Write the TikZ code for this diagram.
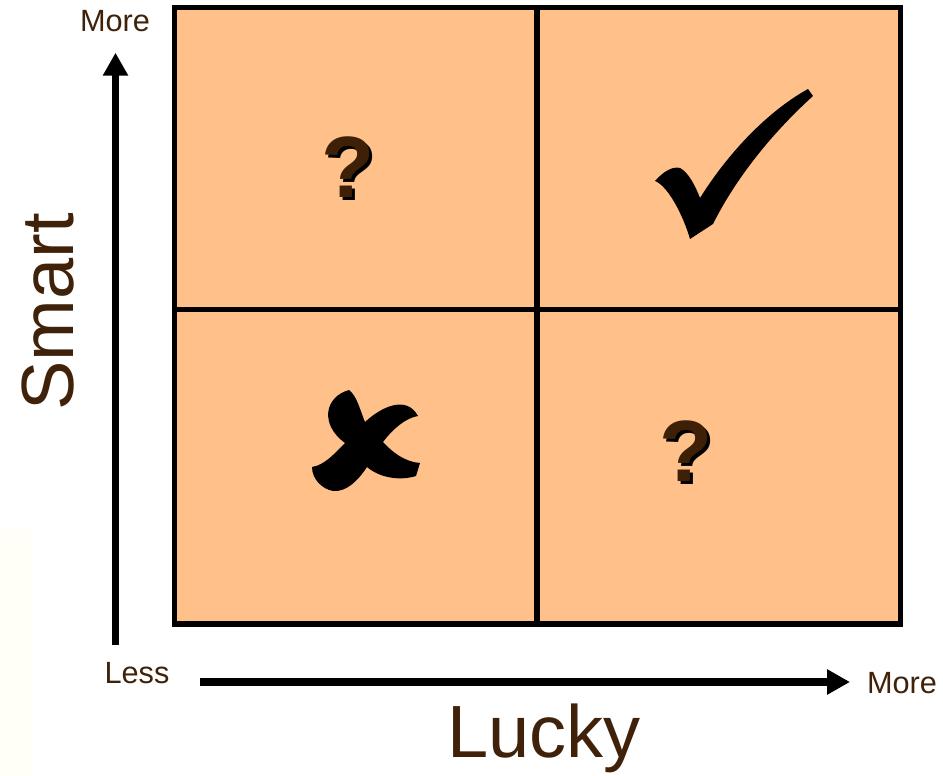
\documentclass[tikz,border=0pt]{standalone}
\usepackage{fontspec}
\setmainfont{Liberation Sans}
\usetikzlibrary{arrows.meta}
\definecolor{cellfill}{RGB}{255,192,138}
\definecolor{txtbrown}{RGB}{64,34,10}
\definecolor{qbrown}{RGB}{62,32,6}
\definecolor{faint}{RGB}{255,255,247}
\newcommand{\shadowq}{\makebox[0pt][l]{\hspace{3pt}\raisebox{-3pt}{\color{black}?}}\color{qbrown}?}
\tikzset{
  gridline/.style={line width=5.5pt, draw=black},
  axisarrow/.style={line width=7.5pt, line cap=butt, -{Triangle[length=23pt,width=24pt]}},
  smalllabel/.style={text=txtbrown, font=\fontsize{30.7}{36}\selectfont, inner sep=0pt},
  biglabel/.style={text=txtbrown, font=\fontsize{74}{88}\selectfont, inner sep=0pt},
  qmark/.style={font=\fontsize{87}{100}\selectfont\bfseries, inner sep=0pt, anchor=base},
}
\begin{document}
\begin{tikzpicture}[x=1pt,y=-1pt]
\useasboundingbox (0,0) rectangle (943,776);
% faint background strip
\fill[faint] (0,529) rectangle (33,776);
% cells
\fill[cellfill] (174.5,7.5) rectangle (900.5,624);
\draw[gridline] (174.5,7.5) rectangle (900.5,624);
\draw[gridline] (537,7.5) -- (537,624);
\draw[gridline] (174.5,309.5) -- (900.5,309.5);
% axes
\coordinate (ybot) at (115.5,645);
\coordinate (ytop) at (115.5,52.7);
\coordinate (xleft) at (200,682);
\coordinate (xright) at (850,682);
\draw[axisarrow] (ybot) -- (ytop);
\draw[axisarrow] (xleft) -- (xright);
% labels
\node[smalllabel, anchor=base] (moretop) at (115,32) {More};
\node[smalllabel, anchor=base] (less) at (137,683) {Less};
\node[smalllabel, anchor=base] (moreright) at (902,693) {More};
\node[biglabel, anchor=base] (lucky) at (544,757) {Lucky};
\node[biglabel, anchor=base, rotate=90] (smart) at (73,312) {Smart};
% question marks with shadow
\node[qmark] (q1) at (348,197) {\shadowq};
\node[qmark] (q2) at (686,481) {\shadowq};
% check mark
\fill[black] (655,181) .. controls (663,172) and (672,166) .. (680,168)
  .. controls (688,172) and (695,185) .. (700,198)
  .. controls (730,150) and (770,110) .. (808,89)
  -- (813,96)
  .. controls (770,135) and (735,180) .. (713,224)
  -- (690,239)
  .. controls (683,215) and (668,186) .. (655,181) -- cycle;
% cross: stroke A (top-left to bottom-right)
\fill[black] (349,390) .. controls (324,397) and (320,425) .. (345,443)
  .. controls (352,450) and (360,460) .. (367,467)
  .. controls (380,478) and (400,481) .. (416,476)
  -- (420,463)
  .. controls (405,462) and (392,452) .. (383,442)
  .. controls (377,435) and (370,430) .. (365,422)
  .. controls (360,410) and (357,396) .. (349,390) -- cycle;
% cross: stroke B (bottom-left to top-right)
\fill[black] (312,467) .. controls (325,465) and (335,453) .. (345,443)
  .. controls (352,436) and (358,429) .. (365,422)
  .. controls (380,408) and (406,394) .. (418,416)
  .. controls (405,418) and (392,430) .. (383,442)
  .. controls (378,450) and (372,460) .. (367,467)
  .. controls (357,482) and (346,492) .. (333,491)
  .. controls (322,489) and (312,479) .. (312,467) -- cycle;
\end{tikzpicture}
\end{document}
